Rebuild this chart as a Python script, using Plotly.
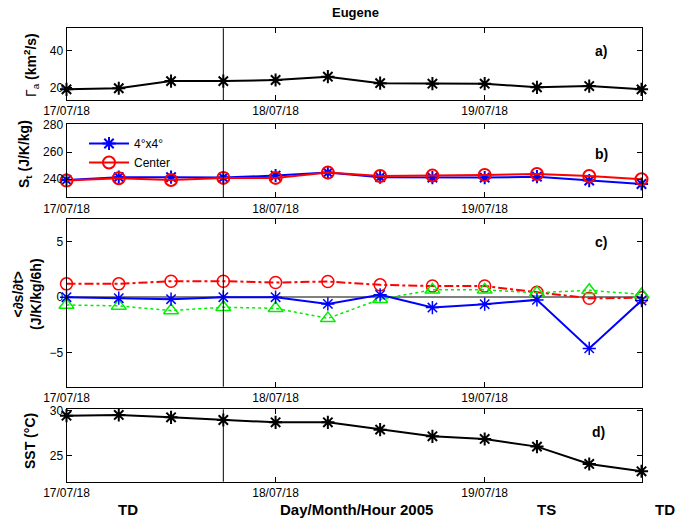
import plotly.graph_objects as go

# ---------------- data ----------------
times = ["2005-07-17 18:00", "2005-07-18 00:00", "2005-07-18 06:00", "2005-07-18 12:00",
         "2005-07-18 18:00", "2005-07-19 00:00", "2005-07-19 06:00", "2005-07-19 12:00",
         "2005-07-19 18:00", "2005-07-20 00:00", "2005-07-20 06:00", "2005-07-20 12:00"]
tick_vals = ["2005-07-17 18:00", "2005-07-18 18:00", "2005-07-19 18:00"]
tick_text = ["17/07/18", "18/07/18", "19/07/18"]
event_time = "2005-07-18 12:00"

gamma_a = [18.9, 19.5, 23.4, 23.4, 24.0, 25.8, 22.3, 22.0, 22.0, 20.0, 20.7, 18.9]
st_4x4 = [239.5, 241.5, 241.5, 241.2, 242.7, 244.9, 241.5, 241.2, 241.2, 241.9, 239.0, 236.5]
st_center = [239.0, 240.7, 239.5, 241.0, 241.0, 244.9, 242.4, 242.7, 243.2, 243.9, 242.4, 240.0]
dsdt_center = [1.2, 1.2, 1.44, 1.44, 1.32, 1.41, 1.11, 1.0, 1.0, 0.45, -0.1, -0.05]
dsdt_4x4 = [0.0, -0.09, -0.18, 0.0, 0.0, -0.6, 0.21, -0.93, -0.63, -0.24, -4.6, -0.3]
dsdt_green = [-0.7, -0.78, -1.2, -0.9, -1.0, -1.9, -0.18, 0.66, 0.66, 0.4, 0.62, 0.25]
sst = [29.44, 29.52, 29.26, 28.96, 28.70, 28.70, 27.89, 27.15, 26.85, 26.0, 24.07, 23.26]

FONT = "Liberation Sans, Arial, Helvetica, sans-serif"
W, H = 688, 520

def py(p):  # pixel y -> paper
    return 1 - p / H

def px(p):
    return p / W

fig = go.Figure()

fig.add_trace(go.Scatter(x=times, y=gamma_a, mode="lines+markers", xaxis="x", yaxis="y",
                         line=dict(color="black", width=2),
                         marker=dict(symbol="asterisk-open", size=11, color="black", line=dict(width=2, color="black")),
                         cliponaxis=False, showlegend=False))

fig.add_trace(go.Scatter(x=times, y=st_4x4, mode="lines+markers", xaxis="x2", yaxis="y2",
                         name="4°x4°", line=dict(color="blue", width=2),
                         marker=dict(symbol="asterisk-open", size=11, color="blue", line=dict(width=2, color="blue")),
                         cliponaxis=False))
fig.add_trace(go.Scatter(x=times, y=st_center, mode="lines+markers", xaxis="x2", yaxis="y2",
                         name="Center", line=dict(color="red", width=2),
                         marker=dict(symbol="circle-open", size=12, color="red", line=dict(width=2, color="red")),
                         cliponaxis=False))

fig.add_trace(go.Scatter(x=times, y=dsdt_center, mode="lines+markers", xaxis="x3", yaxis="y3",
                         line=dict(color="red", width=2, dash="dashdot"),
                         marker=dict(symbol="circle-open", size=12, color="red", line=dict(width=1.5, color="red")),
                         cliponaxis=False, showlegend=False))
fig.add_trace(go.Scatter(x=times, y=dsdt_green, mode="lines+markers", xaxis="x3", yaxis="y3",
                         line=dict(color="#00ee00", width=1.5, dash="dot"),
                         marker=dict(symbol="triangle-up-open", size=13, color="#00ee00", line=dict(width=1.5, color="#00ee00")),
                         cliponaxis=False, showlegend=False))
fig.add_trace(go.Scatter(x=times, y=dsdt_4x4, mode="lines+markers", xaxis="x3", yaxis="y3",
                         line=dict(color="blue", width=2),
                         marker=dict(symbol="asterisk-open", size=11, color="blue", line=dict(width=1.5, color="blue")),
                         cliponaxis=False, showlegend=False))

fig.add_trace(go.Scatter(x=times, y=sst, mode="lines+markers", xaxis="x4", yaxis="y4",
                         line=dict(color="black", width=2),
                         marker=dict(symbol="asterisk-open", size=11, color="black", line=dict(width=2, color="black")),
                         cliponaxis=False, showlegend=False))

xdom = [px(66.5), px(641.5)]
panels = {  # pixel top, bottom
    1: (28.3, 100.0),
    2: (124.0, 197.3),
    3: (219.3, 386.7),
    4: (409.3, 481.7),
}
yranges = {1: [13.1, 52.2], 2: [226.7, 280.7], 3: [-8.04, 7.0], 4: [22.1, 30.15]}
yticks = {1: [20, 40], 2: [240, 260, 280], 3: [-5, 0, 5], 4: [25, 30]}

common_axis = dict(showline=True, linecolor="black", linewidth=1, mirror="ticks",
                   ticks="inside", ticklen=5, tickcolor="black", showgrid=False,
                   automargin=False,
                   tickfont=dict(family=FONT, size=12, color="black"))

layout = dict(width=W, height=H, margin=dict(l=0, r=0, t=0, b=0, autoexpand=False),
              paper_bgcolor="white", plot_bgcolor="white",
              font=dict(family=FONT, color="black"))
for i in range(1, 5):
    sx = "" if i == 1 else str(i)
    top, bot = panels[i]
    layout["xaxis" + sx] = dict(common_axis, domain=xdom, anchor="y" + sx, type="date",
                                range=[times[0], times[-1]], tickvals=tick_vals, ticktext=tick_text,
                                zeroline=False)
    layout["yaxis" + sx] = dict(common_axis, domain=[py(bot), py(top)], anchor="x" + sx,
                                range=yranges[i], tickvals=yticks[i],
                                zeroline=(i == 3), zerolinecolor="#808080", zerolinewidth=2)
fig.update_layout(**layout)

# vertical event line in each panel
for i in range(1, 5):
    sx = "" if i == 1 else str(i)
    fig.add_shape(type="line", xref="x" + sx, yref="y" + sx + " domain",
                  x0=event_time, x1=event_time, y0=0, y1=1,
                  line=dict(color="black", width=1))

fig.update_layout(legend=dict(x=px(84), y=py(129), xanchor="left", yanchor="top",
                              bgcolor="rgba(0,0,0,0)", font=dict(family=FONT, size=12),
                              tracegroupgap=0, itemwidth=40))

ann = []
def A(text, x, y, size=13, angle=0, **kw):
    ann.append(dict(text=text, x=px(x), y=py(y), xref="paper", yref="paper",
                    xanchor="center", yanchor="middle",
                    showarrow=False, textangle=angle, font=dict(family=FONT, size=size, color="black"), **kw))

A("<b>Eugene</b>", 355, 12)
A("<b>a)</b>", 601, 51, size=14)
A("<b>b)</b>", 601, 154, size=14)
A("<b>c)</b>", 601, 242, size=14)
A("<b>d)</b>", 598, 432, size=14)
A("Γ<sub>a</sub> <b>(km<sup>2</sup>/s)</b>", 31, 65, size=14, angle=-90)
A("<b>S<sub>t</sub> (J/K/kg)</b>", 25, 154, size=14, angle=-90)
A("<b>&lt;∂s/∂t&gt;<br>(J/K/kg/6h)</b>", 27, 294, size=14, angle=-90)
A("<b>SST (°C)</b>", 30, 441, size=14, angle=-90)
A("<b>TD</b>", 128, 509, size=15)
A("<b>Day/Month/Hour 2005</b>", 356, 509, size=15)
A("<b>TS</b>", 546, 509, size=15)
A("<b>TD</b>", 665, 509, size=15)
fig.update_layout(annotations=ann)

fig.write_html("out.html", config={"displayModeBar": False},
               post_script="document.body.style.margin='0';")
